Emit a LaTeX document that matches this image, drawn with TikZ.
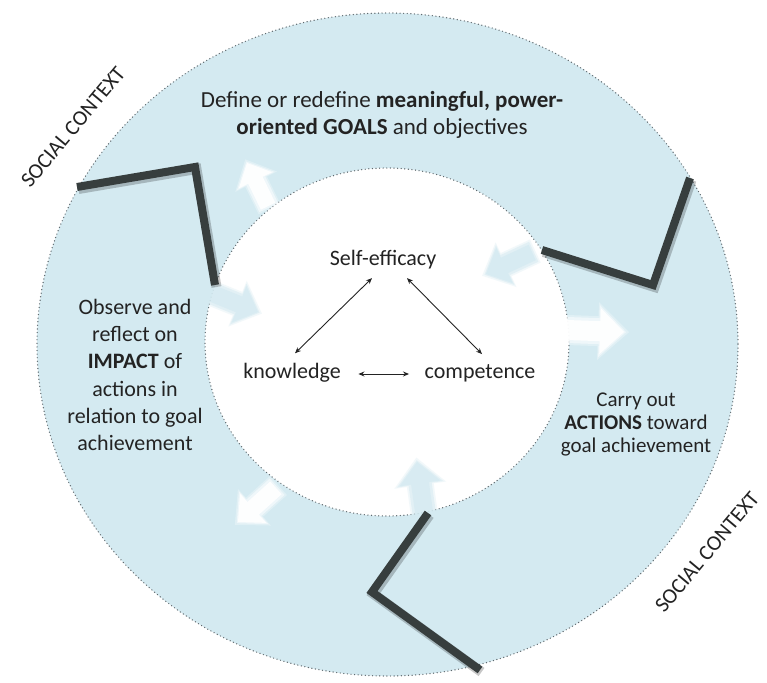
\documentclass[tikz,border=0pt]{standalone}
\usepackage{fontspec}
\setmainfont{Carlito}
\usetikzlibrary{arrows.meta}
\definecolor{ringblue}{RGB}{212,234,241}
\definecolor{inkgray}{RGB}{35,35,35}
\definecolor{dotgray}{RGB}{95,105,110}
\definecolor{chevron}{RGB}{55,62,62}

\begin{document}
\begin{tikzpicture}[x=1pt,y=-1pt,
  dotrim/.style={draw=dotgray, line width=1.4pt, line cap=round, dash pattern=on 0pt off 3.6pt},
  chev/.style={draw=chevron, line width=8pt, line join=miter},
  chevshadow/.style={draw=black, opacity=0.22, line width=10pt, line join=miter},
  lbl/.style={text=inkgray, align=center, inner sep=0pt},
  ctx/.style={text=inkgray, inner sep=0pt, font=\fontsize{21.5}{24}\selectfont, rotate=50},
  link/.style={draw=inkgray, line width=0.9pt,
    {Stealth[length=6pt,width=5pt]}-{Stealth[length=6pt,width=5pt]}},
  whitehead/.style={fill=white},
  bluehead/.style={fill=ringblue!92!blue!60!gray},
  softness/.store in=\headcore, softness=0.9,
  blockhead/.pic={
    \fill[pic actions, opacity=0.3] (5,0) -- (-26,-29) -- (-26,-15) -- (-64,-15)
      -- (-64,15) -- (-26,15) -- (-26,29) -- cycle;
    \fill[pic actions, opacity=0.5] (2,0) -- (-25,-26) -- (-25,-13) -- (-62,-13)
      -- (-62,13) -- (-25,13) -- (-25,26) -- cycle;
    \fill[pic actions, opacity=\headcore] (0,0) -- (-24,-23) -- (-24,-10) -- (-60,-10)
      -- (-60,10) -- (-24,10) -- (-24,23) -- cycle;
  }
]
\useasboundingbox (0,0) rectangle (767,682);
\fill[white] (0,0) rectangle (767,682);

% the ring between the outer and the inner circle
\fill[ringblue] (387.5,344.5) ellipse [x radius=350.5, y radius=331.5];
\fill[white] (387,342) ellipse [x radius=182, y radius=174];
\draw[dotrim] (387.5,344.5) ellipse [x radius=350.5, y radius=331.5];
\draw[dotrim] (387,342) ellipse [x radius=182, y radius=174];

% arrow heads leaving and entering the inner circle
\pic[whitehead, scale=0.8, rotate=116] at (247,163) {blockhead};
\pic[whitehead, rotate=-2] at (624,332) {blockhead};
\pic[whitehead, scale=0.85, rotate=-138] at (238,522) {blockhead};
\pic[fill=ringblue, softness=0.7, scale=0.85, rotate=-22] at (258,312) {blockhead};
\pic[fill=ringblue, softness=0.75, scale=0.85, rotate=205] at (486,274) {blockhead};
\pic[fill=ringblue, softness=0.7, scale=0.9, rotate=98] at (417,462) {blockhead};

% chevrons separating the three phases
\begin{scope}[shift={(1.5,2)}]
  \draw[chevshadow] (77,187) -- (195,167) -- (215,285);
  \draw[chevshadow] (542,250) -- (653,285) -- (690,178);
  \draw[chevshadow] (428,513) -- (372,592) -- (480,670);
\end{scope}
\draw[chev] (77,187) -- (195,167) -- (215,285);
\draw[chev] (542,250) -- (653,285) -- (690,178);
\draw[chev] (428,513) -- (372,592) -- (480,670);

% phase labels
\node[lbl, font=\fontsize{23}{27}\selectfont] (goals) at (382,114.5)
  {Define or redefine \textbf{meaningful, power-}\\\textbf{oriented GOALS} and objectives};
\node[lbl, font=\fontsize{22}{27.2}\selectfont] (impact) at (135,375)
  {Observe and\\reflect on\\\textbf{IMPACT} of\\actions in\\relation to goal\\achievement};
\node[lbl, font=\fontsize{21}{23}\selectfont] (actions) at (636,424.5)
  {Carry out\\\textbf{ACTIONS} toward\\goal achievement};

% social context
\node[ctx] (ctxa) at (73,127) {SOCIAL CONTEXT};
\node[ctx] (ctxb) at (707,552) {SOCIAL CONTEXT};

% inner triangle
\node[lbl, font=\fontsize{22}{26}\selectfont] (se) at (383,260) {Self-efficacy};
\node[lbl, font=\fontsize{22}{26}\selectfont] (kn) at (292,373) {knowledge};
\node[lbl, font=\fontsize{22}{26}\selectfont] (co) at (480,373) {competence};

\draw[link] ([shift={(3,-10)}]kn.north) -- ([shift={(-11,8.5)}]se.south);
\draw[link] ([shift={(24,8.5)}]se.south) -- ([shift={(2,-10)}]co.north);
\draw[link] ([shift={(17.5,1)}]kn.east) -- ([shift={(-15.5,1)}]co.west);
\end{tikzpicture}
\end{document}
